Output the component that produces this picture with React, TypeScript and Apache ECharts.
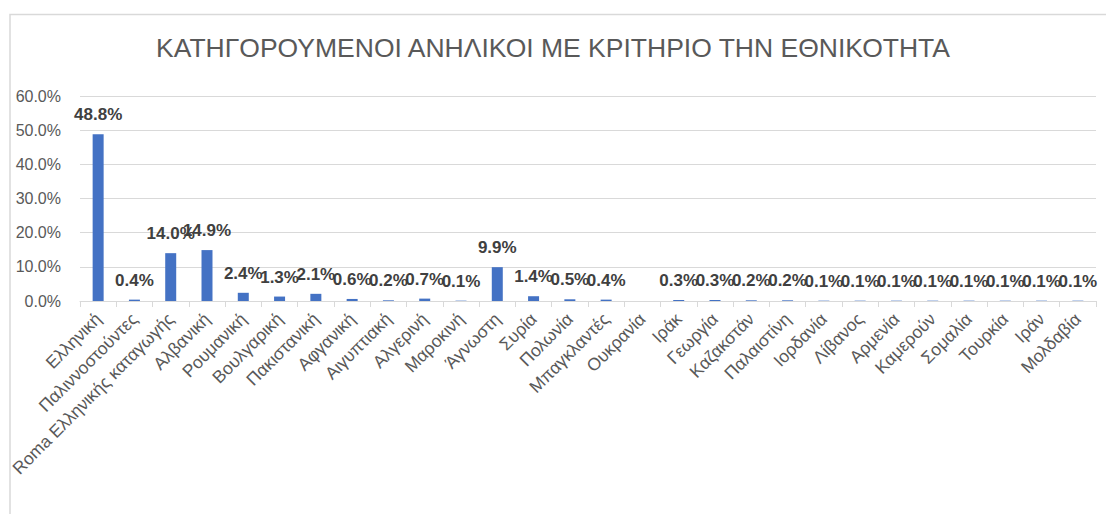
import React, { useEffect, useRef } from "react";
import * as echarts from "echarts";

const categories = [
  "Ελληνική", "Παλιννοστούντες", "Roma Ελληνικής καταγωγής", "Αλβανική", "Ρουμανική",
  "Βουλγαρική", "Πακιστανική", "Αφγανική", "Αιγυπτιακή", "Αλγερινή", "Μαροκινή", "Άγνωστη",
  "Συρία", "Πολωνία", "Μπαγκλαντές", "Ουκρανία", "Ιράκ", "Γεωργία", "Καζακστάν", "Παλαιστίνη",
  "Ιορδανία", "Λίβανος", "Αρμενία", "Καμερούν", "Σομαλία", "Τουρκία", "Ιράν", "Μολδαβία",
];

const values: (number | null)[] = [
  48.8, 0.4, 14.0, 14.9, 2.4, 1.3, 2.1, 0.6, 0.2, 0.7, 0.1, 9.9,
  1.4, 0.5, 0.4, null, 0.3, 0.3, 0.2, 0.2,
  0.1, 0.1, 0.1, 0.1, 0.1, 0.1, 0.1, 0.1,
];

const yMin = 0;
const yMax = 60;
const yStep = 10;

const title = "ΚΑΤΗΓΟΡΟΥΜΕΝΟΙ ΑΝΗΛΙΚΟΙ ΜΕ ΚΡΙΤΗΡΙΟ ΤΗΝ ΕΘΝΙΚΟΤΗΤΑ";

export default function App() {
  const ref = useRef<HTMLDivElement>(null);
  useEffect(() => {
    if (!ref.current) return;
    const chart = echarts.init(ref.current, undefined, { renderer: "svg" });
    const font = "'Liberation Sans', 'Noto Sans', sans-serif";
    chart.setOption({
      animation: false,
      backgroundColor: "#ffffff",
      title: {
        text: title,
        left: "center",
        top: 29,
        textStyle: {
          fontFamily: "'Liberation Sans Narrow', 'Liberation Sans', sans-serif",
          fontSize: 26.5,
          fontWeight: "normal",
          color: "#595959",
        },
      },
      graphic: [
        {
          type: "polyline",
          shape: { points: [[10, 520], [10, 14.5], [1110, 14.5]] },
          style: { stroke: "#d9d9d9", lineWidth: 1.5, fill: "none" },
          silent: true,
        },
      ],
      grid: { left: 80, right: 10, top: 96, bottom: 213, containLabel: false },
      xAxis: {
        type: "category",
        data: categories,
        axisLine: { lineStyle: { color: "#d9d9d9", width: 1 } },
        axisTick: { show: true, alignWithLabel: false, length: 6, lineStyle: { color: "#d9d9d9" } },
        axisLabel: {
          interval: 0,
          rotate: 45,
          margin: 15,
          fontFamily: font,
          fontSize: 17.5,
          color: "#595959",
        },
      },
      yAxis: {
        type: "value",
        min: yMin,
        max: yMax,
        interval: yStep,
        axisLine: { show: false },
        axisTick: { show: false },
        splitLine: { lineStyle: { color: "#d9d9d9", width: 1 } },
        axisLabel: {
          margin: 19,
          fontFamily: font,
          fontSize: 16,
          color: "#595959",
          formatter: (v: number) => `${v.toFixed(1)}%`,
        },
      },
      series: [
        {
          type: "bar",
          data: values,
          barWidth: 11,
          itemStyle: { color: "#4472C4" },
          label: {
            show: true,
            position: "top",
            distance: 11,
            fontFamily: font,
            fontSize: 17,
            fontWeight: 600,
            color: "#404040",
            formatter: (p: any) => `${Number(p.value).toFixed(1)}%`,
          },
        },
      ],
    });
    return () => chart.dispose();
  }, []);
  return (
    <div
      ref={ref}
      style={{ position: "fixed", left: 0, top: 0, width: 1106, height: 514 }}
    />
  );
}
